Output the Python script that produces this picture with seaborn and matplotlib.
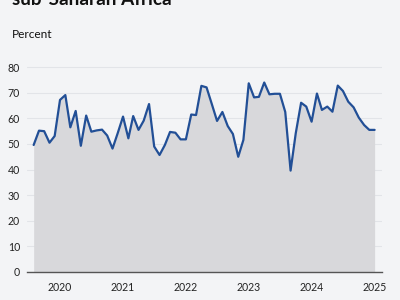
import numpy as np
import pandas as pd
import matplotlib
matplotlib.use("Agg")
import matplotlib.pyplot as plt
import matplotlib.dates as mdates
import seaborn as sns

title = "sub-Saharan Africa"
ylabel = "Percent"
start_month = "2019-08-01"
values = [
    49.6, 55.2, 55.0, 50.5, 53.1,                                      # 2019 Aug-Dec
    67.2, 69.1, 56.5, 62.9, 49.3, 61.1, 54.8, 55.3, 55.6, 53.3, 48.2, 54.2,  # 2020
    60.7, 52.2, 60.9, 55.5, 59.1, 65.6, 49.0, 45.7, 49.6, 54.7, 54.4, 51.8,  # 2021
    51.8, 61.5, 61.3, 72.7, 72.1, 65.5, 59.0, 62.5, 57.0, 53.9, 45.0, 51.6,  # 2022
    73.7, 68.2, 68.4, 74.0, 69.4, 69.6, 69.6, 62.5, 39.6, 54.2, 66.1, 64.6,  # 2023
    58.7, 69.7, 63.3, 64.6, 62.6, 72.8, 70.7, 66.5, 64.3, 60.3, 57.4, 55.5,  # 2024
    55.5,                                                              # 2025 Jan
]
yticks = [0, 10, 20, 30, 40, 50, 60, 70, 80]
xtick_years = [2020, 2021, 2022, 2023, 2024, 2025]

dates = pd.date_range(start_month, periods=len(values), freq="MS")
df = pd.DataFrame({"date": dates, "value": values})

bg = "#f3f4f6"
sns.set_style("white", {"axes.facecolor": bg, "figure.facecolor": bg})
plt.rcParams["font.family"] = ["Lato", "DejaVu Sans"]

fig = plt.figure(figsize=(4, 3), dpi=100)
ax = fig.add_axes([27 / 400, 1 - 272 / 300, (382 - 27) / 400, 213.8 / 300])

ax.fill_between(df["date"], 0, df["value"], color="#d8d8db", linewidth=0, zorder=1)
sns.lineplot(data=df, x="date", y="value", ax=ax, color="#224f96", linewidth=1.6, zorder=3)

ax.set_ylim(0, 83.5)
ax.set_yticks(yticks)
x0 = pd.Timestamp("2020-01-01")
per_day = 62.9 / 365.25
ax.set_xlim(x0 - pd.Timedelta(days=33 / per_day), x0 + pd.Timedelta(days=322 / per_day))
ax.set_xticks([pd.Timestamp(f"{y}-01-01") for y in xtick_years])
ax.xaxis.set_major_formatter(mdates.DateFormatter("%Y"))

ax.grid(axis="y", color="#e2e4e8", linewidth=0.8, zorder=0)
ax.set_axisbelow(True)
for s in ["left", "right", "top"]:
    ax.spines[s].set_visible(False)
ax.spines["bottom"].set_color("#555555")
ax.spines["bottom"].set_linewidth(1.0)
ax.spines["bottom"].set_zorder(4)
ax.tick_params(axis="x", length=3, width=0.8, color="#555555", pad=4, labelsize=7.6, labelcolor="#222222")
ax.tick_params(axis="y", length=0, pad=5, labelsize=7.6, labelcolor="#222222")
ax.set_xlabel("")
ax.set_ylabel("")

fig.text(12 / 400, 1 - 5 / 300, title, fontsize=13.6, fontweight="bold", va="baseline", ha="left", color="#111111")
fig.text(12 / 400, 1 - 38 / 300, ylabel, fontsize=8.6, va="baseline", ha="left", color="#111111")

fig.savefig("out.png", dpi=100, facecolor=bg)
